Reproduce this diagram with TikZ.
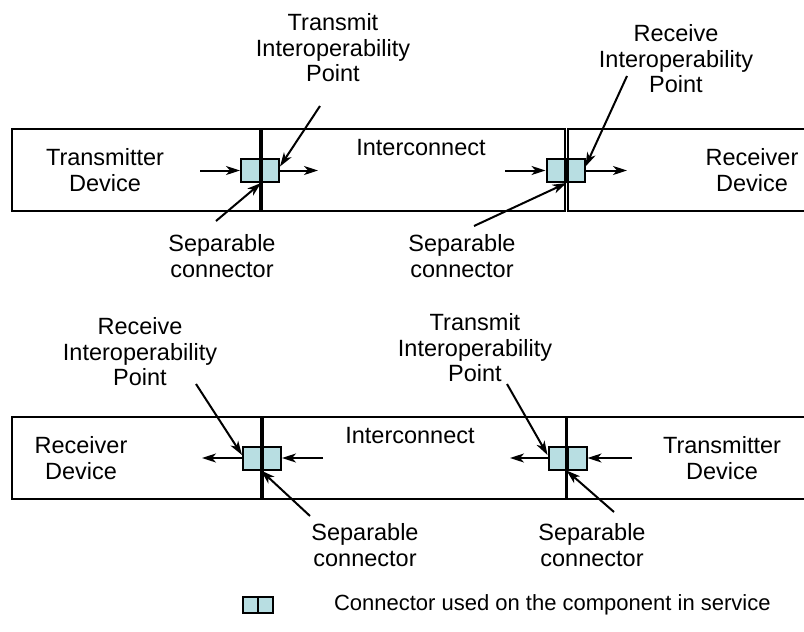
\documentclass[tikz,border=0pt]{standalone}
\usepackage{fontspec}
\setmainfont{Liberation Sans}
\usetikzlibrary{arrows.meta}
\definecolor{conn}{RGB}{184,222,226}

\begin{document}
\begin{tikzpicture}[x=1pt, y=-1pt, line width=2pt, font=\fontsize{23.5}{25.5}\selectfont]

\tikzstyle{every node} = [inner sep=0pt, align=center]
\tikzstyle{devbox} = [draw, rectangle, minimum height=82pt]
\tikzstyle{half} = [draw, rectangle, fill=conn, minimum width=19pt, minimum height=23pt]
\tikzstyle{sig} = [-{Stealth[length=14pt,width=9pt,inset=4pt]}]

\useasboundingbox (0,0) rectangle (804,632);

% upper chain
\node[half] (c1a) at (250.5,170.5) {};
\node[half] (c1b) at (269.5,170.5) {};
\node[half] (c2a) at (556,170.5) {};
\node[half] (c2b) at (575,170.5) {};

\node[devbox, minimum width=248pt] (tx) at (136,170) {};
\node[devbox, minimum width=303pt] (ic) at (413.5,170) {};
\node[devbox, minimum width=260pt] (rx) at (698,170) {};

\node (txl) at (105,170) {Transmitter\\Device};
\node (icl) at (421,148) {Interconnect};
\node (rxl) at (752,170) {Receiver\\Device};
\node (tipl) at (333,48) {Transmit\\Interoperability\\Point};
\node (ripl) at (676,59) {Receive\\Interoperability\\Point};
\node (sepl1) at (222,256) {Separable\\connector};
\node (sepl2) at (462,256) {Separable\\connector};

\coordinate (i1) at (200,170.5);
\coordinate (o1) at (318,170.5);
\coordinate (p1) at (320,106);
\coordinate (s1) at (216,221);
\coordinate (i2) at (505,170.5);
\coordinate (o2) at (627,170.5);
\coordinate (p2) at (627,76);
\coordinate (s2) at (474,226);

\draw[sig] (i1) -- (c1a.west);
\draw[sig] (c1b.east) -- (o1);
\draw[sig] (p1) -- ([yshift=4pt]c1b.east);
\draw[sig] (s1) -- (c1a.south east);
\draw[sig] (i2) -- (c2a.west);
\draw[sig] (c2b.east) -- (o2);
\draw[sig] (p2) -- ([yshift=4pt]c2b.east);
\draw[sig] (s2) -- (c2a.south east);

% lower chain
\node[half] (c3a) at (252.5,458) {};
\node[half] (c3b) at (271.5,458) {};
\node[half] (c4a) at (558,458) {};
\node[half] (c4b) at (577,458) {};

\node[devbox, minimum width=249pt] (rx2) at (136.5,458) {};
\node[devbox, minimum width=303pt] (ic2) at (414.5,458) {};
\node[devbox, minimum width=261pt] (tx2) at (697.5,458) {};

\node (rxl2) at (81,458) {Receiver\\Device};
\node (icl2) at (410,436) {Interconnect};
\node (txl2) at (722,458) {Transmitter\\Device};
\node (ripl2) at (140,352) {Receive\\Interoperability\\Point};
\node (tipl2) at (475,348) {Transmit\\Interoperability\\Point};
\node (sepl3) at (365,545) {Separable\\connector};
\node (sepl4) at (592,545) {Separable\\connector};

\coordinate (o3) at (202,458);
\coordinate (i3) at (323,458);
\coordinate (p3) at (196,384);
\coordinate (s3) at (310,516);
\coordinate (o4) at (510,458);
\coordinate (i4) at (632,458);
\coordinate (p4) at (507,384);
\coordinate (s4) at (614,512);

\draw[sig] (c3a.west) -- (o3);
\draw[sig] (i3) -- (c3b.east);
\draw[sig] (p3) -- ([yshift=3pt]c3a.west);
\draw[sig] (s3) -- (c3b.south west);
\draw[sig] (c4a.west) -- (o4);
\draw[sig] (i4) -- (c4b.east);
\draw[sig] (p4) -- ([yshift=3pt]c4a.west);
\draw[sig] (s4) -- (c4b.south west);

% legend
\node[half, minimum width=15pt, minimum height=16pt] (ka) at (250.5,605) {};
\node[half, minimum width=15pt, minimum height=16pt] (kb) at (265.5,605) {};
\node[anchor=west, font=\fontsize{22}{25}\selectfont] (kl) at (333,605) {Connector used on the component in service};
\end{tikzpicture}
\end{document}
